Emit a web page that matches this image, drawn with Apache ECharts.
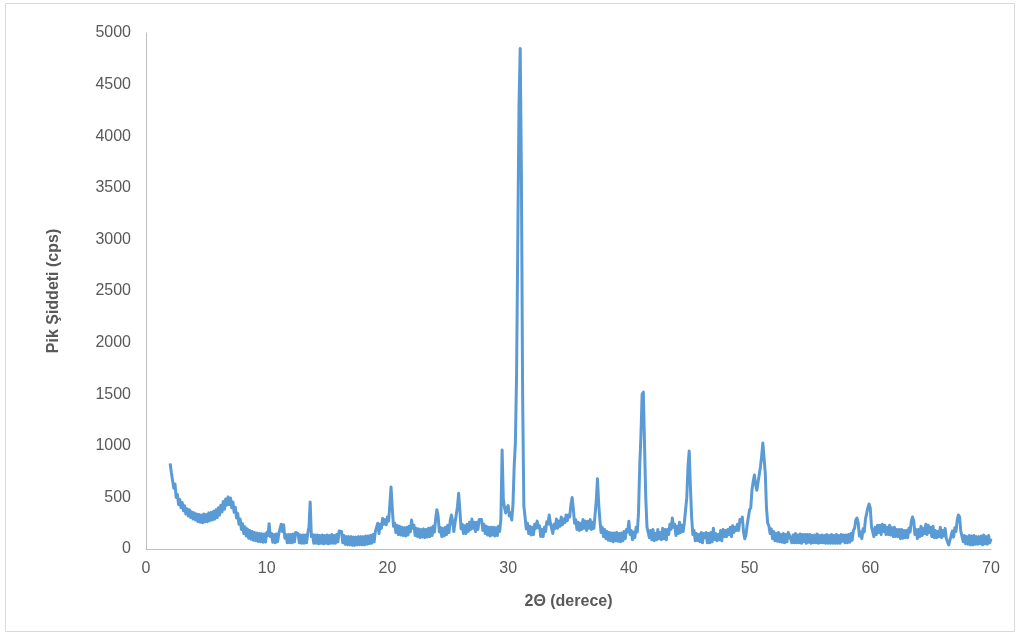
<!DOCTYPE html>
<html>
<head>
<meta charset="utf-8">
<script src="https://cdn.jsdelivr.net/npm/echarts@6/dist/echarts.min.js"></script>
<style>
  html, body { margin: 0; padding: 0; background: #ffffff; }
  #chart { width: 1020px; height: 637px; }
</style>
</head>
<body>
<div id="chart"></div>
<script>
// 2θ scan: first angle, step (degrees)
const thetaStart = 2.0;
const thetaStep = 0.1;
// Intensity (cps), one value per step, rows of 1 degree
const intensity = [
  830, 740, 730, 590, 630, 500, 530, 430, 480, 400,
  450, 370, 420, 340, 390, 320, 380, 305, 360, 290,
  350, 280, 340, 265, 335, 260, 330, 255, 340, 265,
  335, 265, 350, 275, 355, 280, 365, 290, 380, 305,
  400, 330, 425, 360, 460, 385, 485, 425, 505, 430,
  495, 400, 455, 355, 405, 300, 345, 240, 290, 190,
  245, 150, 215, 125, 195, 105, 180, 95, 170, 85,
  160, 80, 155, 72, 150, 70, 148, 65, 145, 67,
  160, 130, 245, 120, 150, 65, 140, 60, 145, 70,
  150, 150, 240, 170, 235, 105, 140, 60, 140, 60,
  140, 60, 145, 70, 160, 170, 150, 60, 135, 55,
  135, 55, 135, 60, 150, 210, 455, 120, 140, 55,
  135, 55, 135, 50, 130, 55, 135, 50, 130, 55,
  135, 50, 130, 55, 140, 55, 130, 55, 140, 70,
  175, 185, 170, 60, 130, 45, 120, 40, 120, 40,
  120, 35, 115, 35, 115, 40, 120, 40, 120, 40,
  120, 40, 125, 45, 125, 50, 130, 55, 140, 70,
  170, 160, 250, 150, 240, 200, 295, 240, 285, 235,
  310, 270, 430, 600, 400, 220, 250, 160, 230, 140,
  220, 135, 210, 130, 205, 125, 210, 135, 220, 165,
  280, 200, 230, 130, 200, 120, 195, 110, 190, 115,
  195, 110, 190, 115, 200, 120, 205, 130, 220, 165,
  300, 380, 320, 165, 210, 120, 200, 125, 210, 140,
  230, 160, 270, 330, 270, 170, 255, 270, 410, 540,
  380, 195, 240, 150, 225, 150, 240, 170, 260, 190,
  290, 200, 260, 170, 260, 190, 285, 270, 285, 180,
  240, 150, 220, 135, 210, 125, 210, 135, 210, 125,
  205, 130, 220, 170, 290, 960, 480, 400, 350, 400,
  420, 320, 350, 280, 430, 800, 1030, 1700, 3000, 4300,
  4850, 3600, 1500, 420, 310, 195, 250, 150, 220, 135,
  210, 140, 240, 200, 270, 205, 225, 120, 190, 120,
  210, 170, 265, 240, 330, 250, 235, 150, 240, 200,
  290, 200, 270, 220, 310, 235, 290, 255, 330, 275,
  330, 310, 430, 500, 390, 250, 285, 190, 260, 180,
  250, 190, 285, 200, 270, 180, 270, 200, 285, 190,
  260, 200, 330, 470, 680, 440, 280, 160, 210, 120,
  190, 100, 170, 85, 160, 80, 155, 70, 155, 80,
  160, 75, 150, 70, 155, 80, 170, 100, 190, 165,
  270, 140, 180, 90, 165, 110, 210, 165, 350, 800,
  1100, 1500, 1520, 1000, 500, 215, 220, 110, 180, 90,
  190, 80, 150, 90, 190, 100, 160, 90, 200, 100,
  190, 90, 190, 140, 240, 190, 300, 210, 240, 130,
  220, 150, 260, 160, 230, 170, 260, 250, 500, 800,
  950, 600, 310, 140, 180, 80, 150, 80, 140, 70,
  160, 60, 150, 110, 160, 60, 150, 60, 160, 70,
  200, 90, 150, 80, 140, 90, 180, 80, 190, 120,
  180, 120, 190, 140, 210, 120, 225, 160, 210, 180,
  240, 180, 285, 265, 310, 165, 100, 135, 235, 225,
  380, 400, 575, 655, 717, 625, 570, 575, 720, 795,
  900, 1027, 880, 736, 400, 250, 225, 150, 195, 100,
  170, 80, 150, 75, 160, 70, 140, 65, 150, 60,
  140, 70, 160, 135, 145, 60, 135, 60, 150, 60,
  135, 60, 145, 55, 140, 70, 140, 55, 140, 65,
  140, 55, 130, 60, 135, 60, 145, 55, 130, 60,
  135, 60, 130, 55, 140, 55, 130, 55, 140, 55,
  130, 55, 140, 55, 130, 55, 140, 75, 135, 60,
  135, 60, 140, 65, 150, 85, 180, 200, 280, 300,
  250, 125, 165, 100, 195, 165, 290, 300, 400, 436,
  395, 215, 215, 120, 210, 140, 230, 160, 230, 140,
  240, 170, 230, 140, 210, 140, 230, 135, 205, 120,
  210, 120, 190, 120, 190, 100, 190, 105, 180, 110,
  180, 110, 200, 165, 270, 310, 270, 140, 190, 100,
  190, 120, 220, 130, 200, 150, 240, 140, 230, 160,
  210, 120, 220, 110, 180, 110, 170, 120, 210, 110,
  180, 125, 200, 100, 110, 40, 85, 90, 175, 115,
  205, 170, 280, 330, 310, 170, 175, 70, 130, 50,
  120, 45, 130, 40, 125, 40, 130, 45, 120, 45,
  120, 50, 125, 40, 135, 50, 120, 45, 130, 60,
  100
];
const xTitle = '2Θ (derece)';
const yTitle = 'Pik Şiddeti (cps)';

const points = intensity.map((v, i) => [Math.round((thetaStart + i * thetaStep) * 10) / 10, v]);

const chart = echarts.init(document.getElementById('chart'), null, { renderer: 'canvas' });
const textColor = '#595959';
const fontFamily = '"Liberation Sans", Arial, sans-serif';
chart.setOption({
  animation: false,
  backgroundColor: '#ffffff',
  graphic: [{
    type: 'rect',
    shape: { x: 5.5, y: 3.5, width: 1009, height: 628 },
    style: { fill: 'none', stroke: '#D9D9D9', lineWidth: 1 },
    silent: true
  }],
  grid: { left: 146, right: 29, top: 33, bottom: 88, containLabel: false },
  xAxis: {
    type: 'value', min: 0, max: 70, interval: 10,
    name: xTitle, nameLocation: 'middle', nameGap: 45,
    nameTextStyle: { color: textColor, fontSize: 16, fontWeight: 'bold', fontFamily },
    axisLine: { show: true, lineStyle: { color: '#BFBFBF', width: 1 } },
    axisTick: { show: false },
    splitLine: { show: false },
    axisLabel: { color: textColor, fontSize: 16, fontFamily, margin: 12 }
  },
  yAxis: {
    type: 'value', min: 0, max: 5000, interval: 500,
    name: yTitle, nameLocation: 'middle', nameGap: 84,
    nameTextStyle: { color: textColor, fontSize: 16, fontWeight: 'bold', fontFamily },
    axisLine: { show: true, lineStyle: { color: '#BFBFBF', width: 1 } },
    axisTick: { show: false },
    splitLine: { show: false },
    axisLabel: { color: textColor, fontSize: 16, fontFamily, margin: 15, formatter: (v) => String(v) }
  },
  series: [{
    type: 'line',
    data: points,
    showSymbol: false,
    symbol: 'none',
    sampling: false,
    lineStyle: { color: '#5B9BD5', width: 3, join: 'round' },
    itemStyle: { color: '#5B9BD5' }
  }]
});
</script>
</body>
</html>
